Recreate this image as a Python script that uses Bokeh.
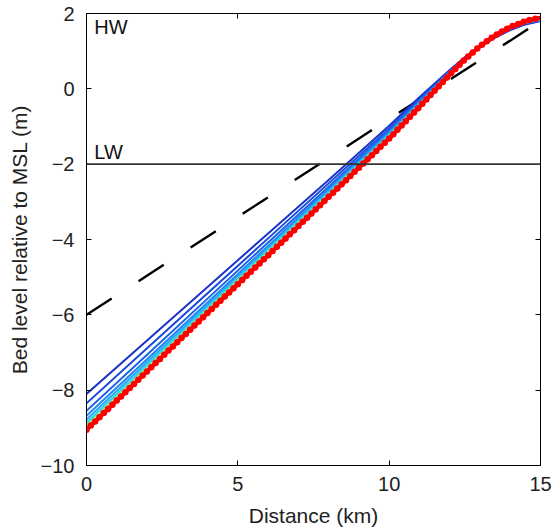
from bokeh.plotting import figure
from bokeh.models import LinearAxis, FixedTicker, Span, Range1d
from bokeh.core.properties import value
from bokeh.embed import file_html
from bokeh.resources import INLINE

# ---- data ----
x_km = [0, 2, 4, 6, 8, 10, 11, 12, 12.5, 13, 13.5, 14, 14.5, 15]
c1 = [-8.10, -6.68, -5.26, -3.84, -2.42, -0.98, -0.22, 0.50, 0.84, 1.12, 1.36, 1.56, 1.71, 1.80]
c2 = [-8.35, -6.89, -5.43, -3.97, -2.51, -1.05, -0.27, 0.48, 0.83, 1.12, 1.37, 1.57, 1.72, 1.81]
c3 = [-8.55, -7.06, -5.57, -4.08, -2.60, -1.10, -0.31, 0.46, 0.82, 1.12, 1.38, 1.58, 1.74, 1.82]
c4 = [-8.68, -7.18, -5.67, -4.17, -2.66, -1.15, -0.35, 0.44, 0.81, 1.12, 1.39, 1.60, 1.75, 1.83]
c5 = [-8.78, -7.26, -5.74, -4.22, -2.71, -1.19, -0.38, 0.43, 0.80, 1.12, 1.40, 1.61, 1.76, 1.84]
c6 = [-8.86, -7.33, -5.80, -4.27, -2.75, -1.22, -0.41, 0.42, 0.80, 1.12, 1.40, 1.62, 1.77, 1.85]
c7 = [-8.92, -7.39, -5.85, -4.32, -2.79, -1.25, -0.43, 0.41, 0.79, 1.13, 1.41, 1.63, 1.78, 1.86]
c8 = [-8.97, -7.43, -5.89, -4.36, -2.82, -1.28, -0.45, 0.40, 0.79, 1.13, 1.41, 1.63, 1.79, 1.87]
c9 = [-9.01, -7.47, -5.92, -4.39, -2.85, -1.30, -0.47, 0.39, 0.78, 1.13, 1.42, 1.64, 1.80, 1.88]
final_red = [-9.05, -7.50, -5.95, -4.42, -2.87, -1.32, -0.48, 0.38, 0.78, 1.13, 1.42, 1.64, 1.80, 1.89]
curve_colors = ["#1a33cc", "#1848dc", "#1c62e8", "#2084f2", "#24a8f6", "#2ccdf0",
                "#5ee6b0", "#b8f050", "#ffb000"]

initial_x = [0, 15]
initial_y = [-6.0, 1.8]
lw_level = -2.0

x_ticks = [0, 5, 10, 15]
y_ticks = [-10, -8, -6, -4, -2, 0, 2]
y_tick_labels = {-10: "\u221210", -8: "\u22128", -6: "\u22126", -4: "\u22124",
                 -2: "\u22122", 0: "0", 2: "2"}
label_pos_x = [0.26, 0.26]
label_pos_y = [1.63, -1.68]
label_text = ["HW", "LW"]

FONT = "Liberation Sans"

p = figure(width=552, height=531, output_backend="svg", toolbar_location=None,
           x_range=Range1d(0, 15), y_range=Range1d(-10, 2),
           min_border_left=86, min_border_right=12, min_border_top=13, min_border_bottom=66)
p.grid.visible = False
p.outline_line_color = "black"
p.outline_line_width = 1
p.background_fill_color = "white"
p.border_fill_color = "white"

for ax in (p.xaxis[0], p.yaxis[0]):
    ax.major_tick_in = 5
    ax.major_tick_out = 0
    ax.minor_tick_line_color = None
    ax.axis_line_color = "black"
    ax.major_label_text_font = FONT
    ax.major_label_text_font_size = "20px"
    ax.major_label_text_color = "#222222"
    ax.axis_label_text_font = FONT
    ax.axis_label_text_font_size = "21px"
    ax.axis_label_text_font_style = "normal"
    ax.axis_label_text_color = "#222222"

p.xaxis[0].ticker = FixedTicker(ticks=x_ticks)
p.yaxis[0].ticker = FixedTicker(ticks=y_ticks)
p.yaxis[0].major_label_overrides = y_tick_labels
p.xaxis[0].axis_label = "Distance (km)"
p.yaxis[0].axis_label = "Bed level relative to MSL (m)"
p.xaxis[0].major_label_standoff = 11
p.yaxis[0].major_label_standoff = 12
p.xaxis[0].axis_label_standoff = 10
p.yaxis[0].axis_label_standoff = 7

# mirrored ticks on top and right (box), no labels
blank_x = {t: "" for t in x_ticks}
blank_y = {t: "" for t in y_ticks}
top = LinearAxis(ticker=FixedTicker(ticks=x_ticks), major_tick_in=5, major_tick_out=0,
                 minor_tick_line_color=None, major_label_overrides=blank_x,
                 major_label_standoff=0, axis_line_color="black")
right = LinearAxis(ticker=FixedTicker(ticks=y_ticks), major_tick_in=5, major_tick_out=0,
                   minor_tick_line_color=None, major_label_overrides=blank_y,
                   major_label_standoff=0, axis_line_color="black")
p.add_layout(top, "above")
p.add_layout(right, "right")

# LW line
p.add_layout(Span(location=lw_level, dimension="width", line_color="#333333", line_width=1.6))

# initial profile (dashed)
p.line(initial_x, initial_y, line_color="black", line_width=2.4, line_dash="30 32")

# evolving profiles
for ys, col in zip([c1, c2, c3, c4, c5, c6, c7, c8, c9], curve_colors):
    p.line(x_km, ys, line_color=col, line_width=2)

# final (equilibrium) profile, red dotted
p.line(x_km, final_red, line_color="#ff0000", line_width=4)
p.line(x_km, final_red, line_color="#ff0000", line_width=6.5, line_dash="0 6", line_cap="round")

p.text(label_pos_x, label_pos_y, text=label_text, text_font=value(FONT), text_font_size="20px",
       text_color="#111111", text_baseline="alphabetic")

open("out.html", "w").write(file_html(p, INLINE))
